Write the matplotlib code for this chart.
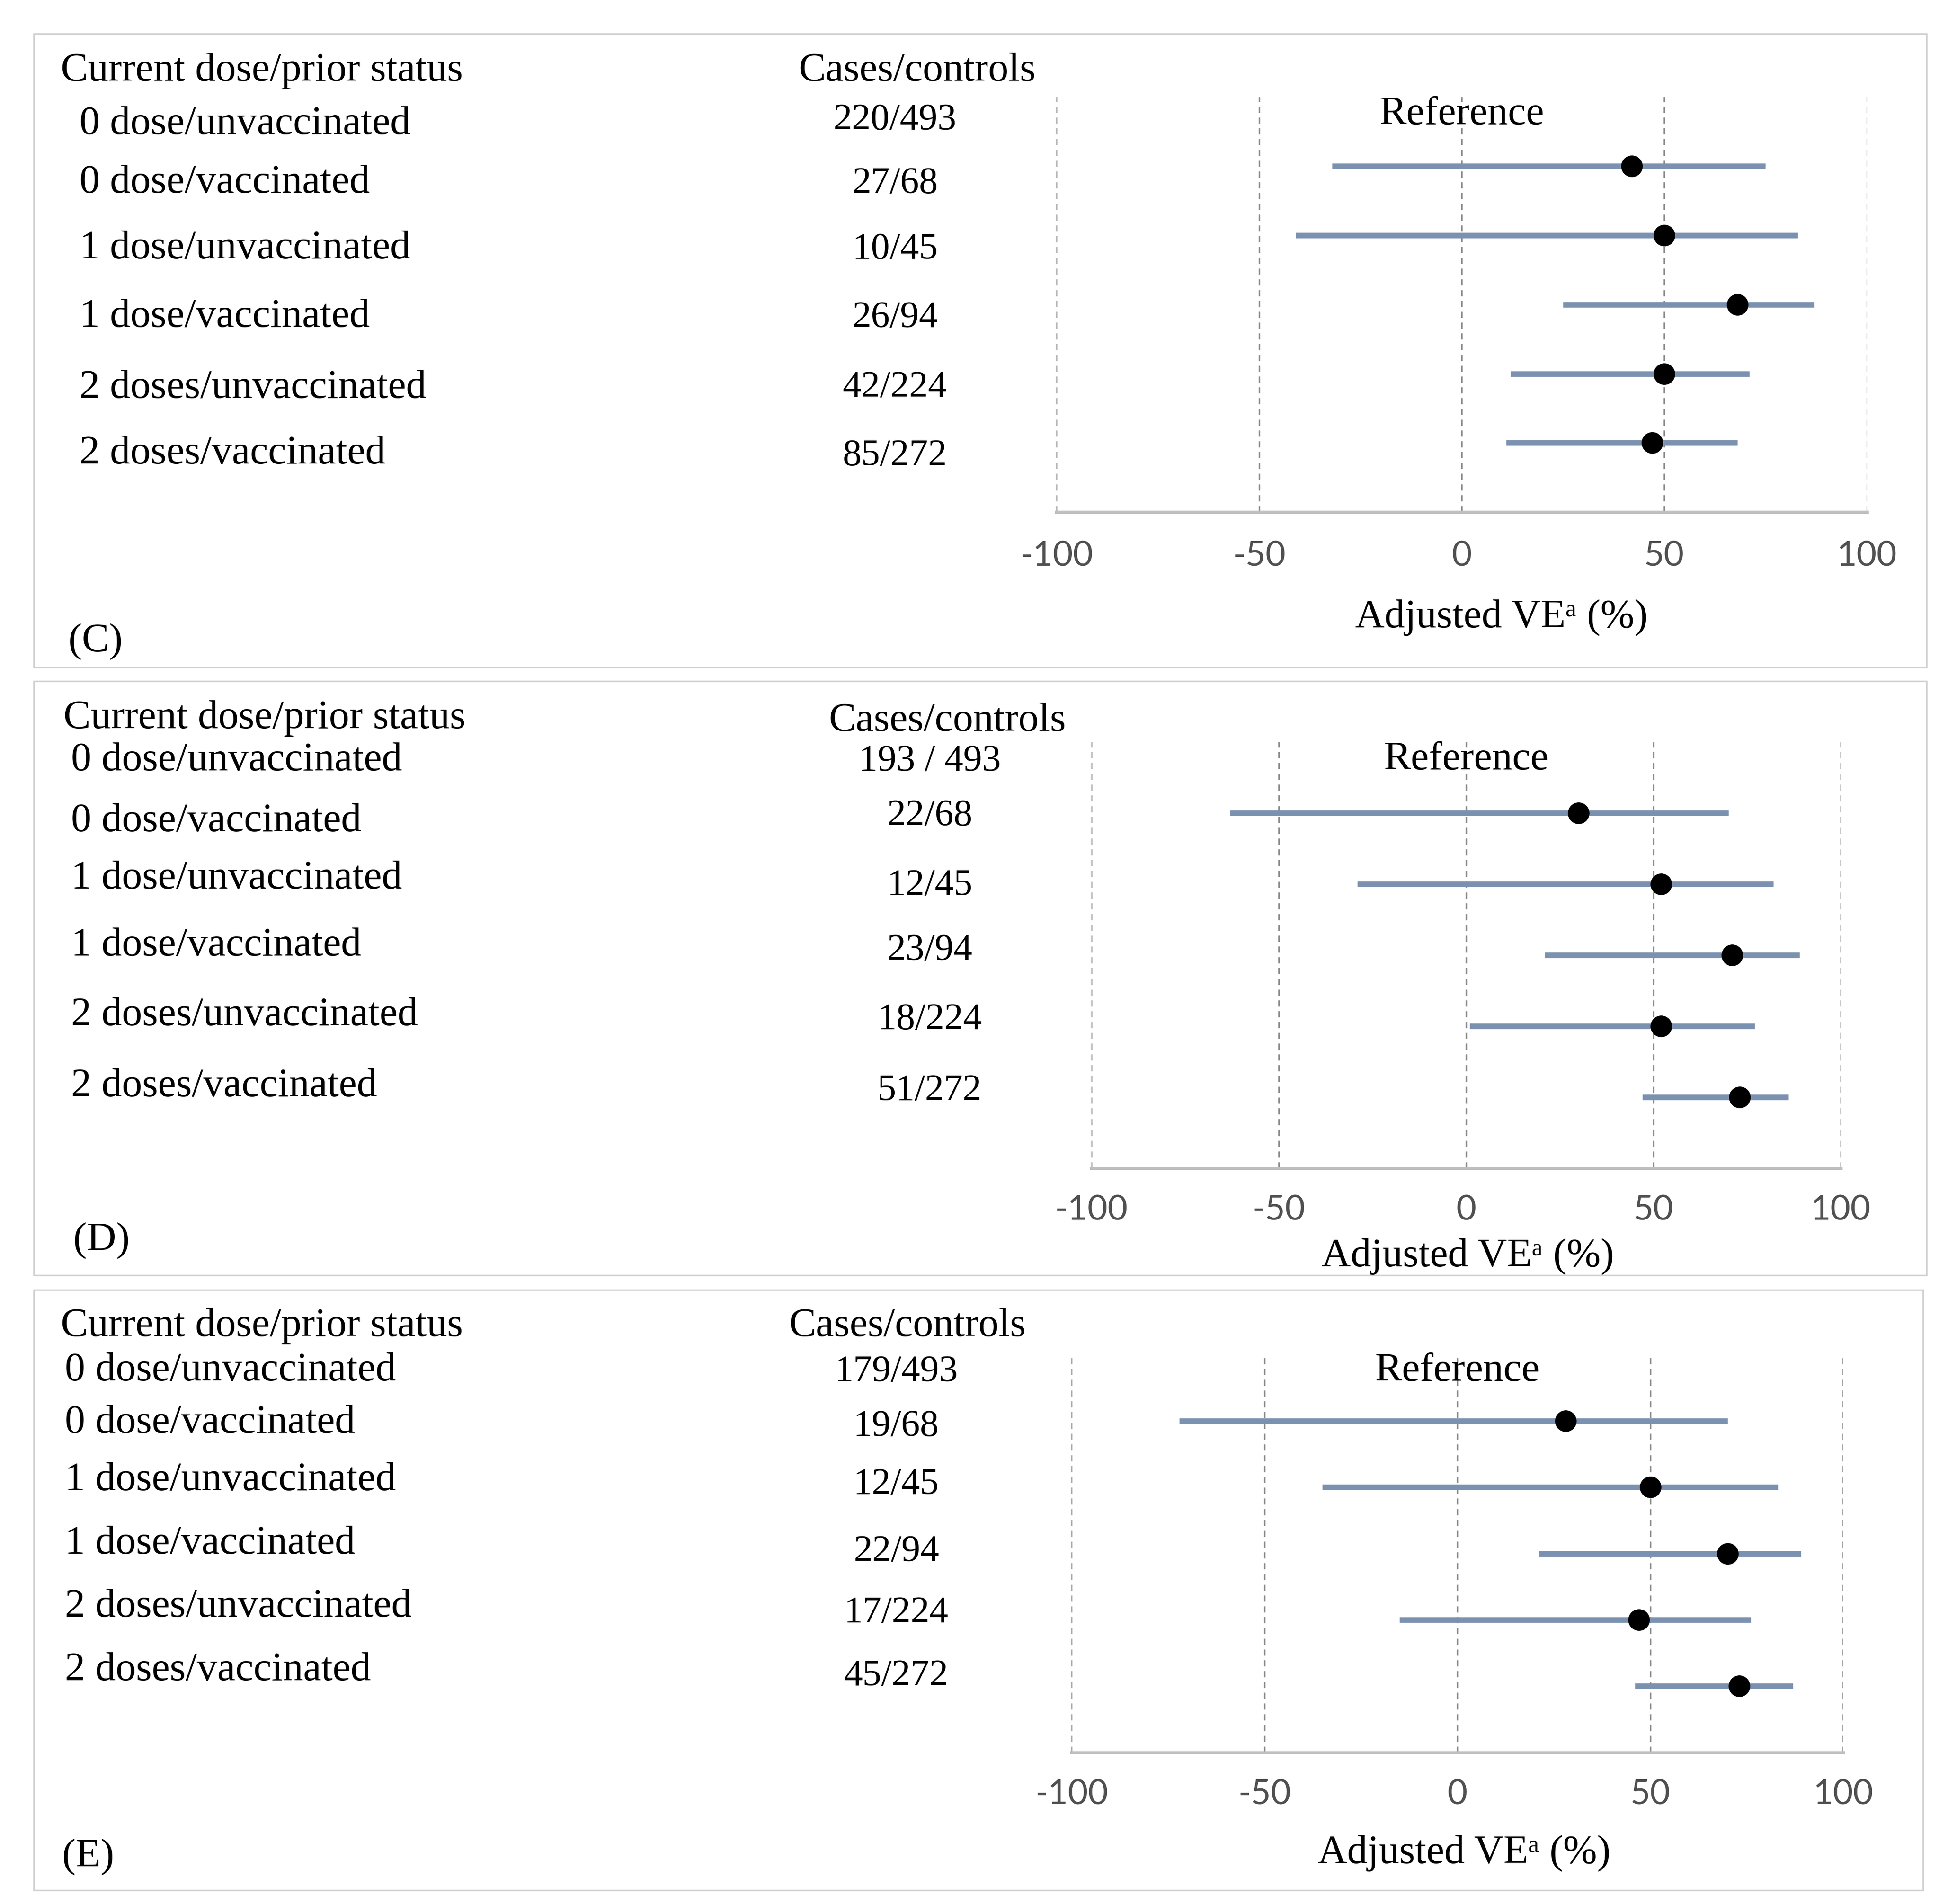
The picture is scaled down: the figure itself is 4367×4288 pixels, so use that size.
import matplotlib.pyplot as plt
from matplotlib.patches import Rectangle

# rows shared by all three panels
row_labels = ["0 dose/unvaccinated", "0 dose/vaccinated", "1 dose/unvaccinated",
              "1 dose/vaccinated", "2 doses/unvaccinated", "2 doses/vaccinated"]
ticks = [-100, -50, 0, 50, 100]

# panel C
cases_c = ["220/493", "27/68", "10/45", "26/94", "42/224", "85/272"]
ve_c = [42, 50, 68, 50, 47]
lo_c = [-32, -41, 25, 12, 11]
hi_c = [75, 83, 87, 71, 68]

# panel D
cases_d = ["193 / 493", "22/68", "12/45", "23/94", "18/224", "51/272"]
ve_d = [30, 52, 71, 52, 73]
lo_d = [-63, -29, 21, 1, 47]
hi_d = [70, 82, 89, 77, 86]

# panel E
cases_e = ["179/493", "19/68", "12/45", "22/94", "17/224", "45/272"]
ve_e = [28, 50, 70, 47, 73]
lo_e = [-72, -35, 21, -15, 46]
hi_e = [70, 83, 89, 76, 87]

SERIF = ["Liberation Serif", "DejaVu Serif"]
SANS = ["Lato", "DejaVu Sans"]
W, H = 1560.0, 1532.0  # layout grid (scaled to the output size)
FS = 66      # word labels
FS_NUM = 61  # cases/controls counts


def fx(x):
    return x / W


def fy(y):
    return 1 - y / H


def draw_panel(fig, lay, cases, ve, lo, hi, tag):
    x0, y0, x1, y1 = lay["box"]
    fig.patches.append(Rectangle((fx(x0), fy(y1)), fx(x1) - fx(x0), fy(y0) - fy(y1),
                                 transform=fig.transFigure, fill=False,
                                 edgecolor="#d0d0d0", lw=2.5))
    ax0, ay0, ax1, ay1 = lay["axes"]
    ax = fig.add_axes([fx(ax0), fy(ay1), fx(ax1) - fx(ax0), fy(ay0) - fy(ay1)])
    ax.set_xlim(-100, 100)
    ax.set_ylim(6, 0)
    for t in ticks:
        ax.axvline(t, color="#8a8a8a", lw=2.5, ls=(0, (4, 3)), zorder=1)
    rows = range(1, len(ve) + 1)
    ax.hlines(rows, lo, hi, color="#7b91b0", lw=9, zorder=2)
    ax.plot(ve, rows, "o", color="black", ms=34, zorder=3)
    ax.text(0, 0.25, "Reference", ha="center", va="center", fontsize=FS, family=SERIF)
    for s in ["left", "right", "top"]:
        ax.spines[s].set_visible(False)
    ax.spines["bottom"].set_color("#bfbfbf")
    ax.spines["bottom"].set_linewidth(5)
    ax.set_yticks([])
    ax.set_xticks(ticks)
    ax.set_xticklabels([str(t) for t in ticks], family=SANS, fontsize=56, color="#505050")
    ax.tick_params(axis="x", length=0, pad=lay["pad"])
    ax.set_facecolor("none")

    fig.text(fx(lay["head_x"]), fy(lay["head_y"]), "Current dose/prior status",
             ha="left", va="center", fontsize=FS, family=SERIF)
    fig.text(fx(lay["cases_head"]), fy(lay["head_y2"]), "Cases/controls",
             ha="center", va="center", fontsize=FS, family=SERIF)
    for lab, cc, ly, cy in zip(row_labels, cases, lay["label_y"], lay["cases_y"]):
        fig.text(fx(lay["label_x"]), fy(ly), lab, ha="left", va="center",
                 fontsize=FS, family=SERIF)
        fig.text(fx(lay["cases_x"]), fy(cy), cc, ha="center", va="center",
                 fontsize=FS_NUM, family=SERIF)
    fig.text(fx(lay["xlab"][0]), fy(lay["xlab"][1]), "Adjusted VEᵃ (%)",
             ha="center", va="center", fontsize=FS, family=SERIF)
    fig.text(fx(lay["tag"][0]), fy(lay["tag"][1]), tag, ha="left", va="center",
             fontsize=FS, family=SERIF)


layout_c = dict(box=(27, 27, 1550, 537), axes=(850, 78, 1502, 412), pad=46,
                head_x=49, head_y=57, head_y2=57, cases_head=738,
                label_x=64, label_y=[100, 147, 200, 255, 312, 365],
                cases_x=720, cases_y=[97, 148, 201, 256, 312, 367],
                xlab=(1208, 497), tag=(55, 516))
layout_d = dict(box=(27, 548, 1550, 1026), axes=(878, 597, 1481, 940), pad=43,
                head_x=51, head_y=578, head_y2=580, cases_head=762,
                label_x=57, label_y=[612, 661, 707, 761, 817, 874],
                cases_x=748, cases_y=[613, 657, 713, 765, 821, 878],
                xlab=(1181, 1011), tag=(59, 998))
layout_e = dict(box=(27, 1038, 1547, 1521), axes=(862, 1090, 1483, 1410), pad=43,
                head_x=49, head_y=1067, head_y2=1067, cases_head=730,
                label_x=52, label_y=[1103, 1145, 1191, 1242, 1293, 1344],
                cases_x=721, cases_y=[1104, 1148, 1195, 1249, 1298, 1349],
                xlab=(1178, 1491), tag=(50, 1494))

fig = plt.figure(figsize=(43.67, 42.88), dpi=100)
fig.patch.set_facecolor("white")
draw_panel(fig, layout_c, cases_c, ve_c, lo_c, hi_c, "(C)")
draw_panel(fig, layout_d, cases_d, ve_d, lo_d, hi_d, "(D)")
draw_panel(fig, layout_e, cases_e, ve_e, lo_e, hi_e, "(E)")
fig.savefig("out.png", dpi=100)
